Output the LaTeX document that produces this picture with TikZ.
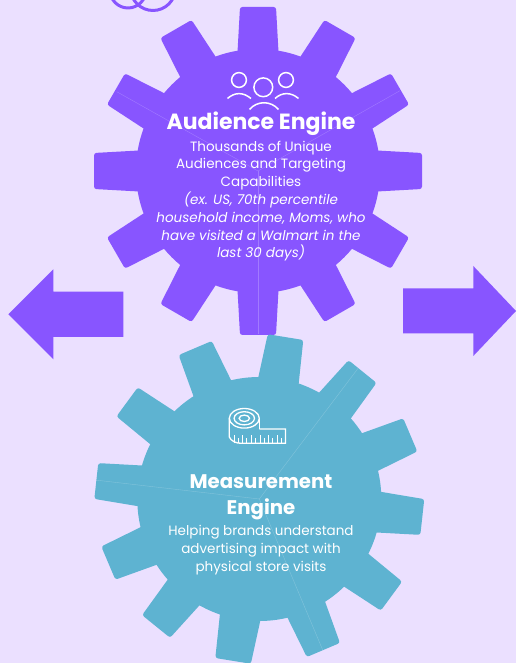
\documentclass[tikz,border=0pt]{standalone}
\usepackage{fontspec}
\setmainfont{Poppins}
\definecolor{bgc}{HTML}{EBE0FF}
\definecolor{purp}{HTML}{8855FF}
\definecolor{teal2}{HTML}{5EB3D1}
\newcommand{\gearshape}[4]{% cx, cy, angles, colour
  \fill[#4] (#1,#2) circle[radius=122];
  \foreach \a in {#3}{
    \fill[#4,rounded corners=2.5pt,shift={(#1,#2)},rotate=\a]
      (110,-21) -- (164,-18) -- (164,18) -- (110,21) -- cycle;
  }
}
\tikzset{
  titletext/.style={text=white,align=center,font=\fontsize{22}{26}\selectfont\bfseries,inner sep=0},
  titlesmall/.style={text=white,align=center,font=\fontsize{19.7}{26}\selectfont\bfseries,inner sep=0},
  bodytext/.style={text=white,align=center,font=\fontsize{13.5}{17.8}\selectfont,inner sep=0},
  seam/.style={line width=0.4pt,opacity=0.22,white},
  icon/.style={draw=white,line width=1.5pt,fill=none},
  arrowshape/.style={fill=purp,draw=none}
}
\begin{document}
\begin{tikzpicture}[x=1pt,y=1pt]
\useasboundingbox (0,0) rectangle (516,663);
\fill[bgc] (0,0) rectangle (516,663);
% top cut-off loops
\begin{scope}
\clip (0,0) rectangle (516,663);
\draw[purp,line width=3pt] (153,675) circle[radius=22.5];
\draw[purp,line width=3pt] (128,673) circle[radius=18];
\end{scope}
% arrows
\fill[arrowshape] (8.3,348.7) -- (53.3,393.7) -- (53.3,371.3) -- (123.3,371.3) -- (123.3,326) -- (53.3,326) -- (53.3,303.7) -- cycle;
\fill[arrowshape] (516,352) -- (473.3,397) -- (473.3,374.7) -- (403,374.7) -- (403,329.7) -- (473.3,329.7) -- (473.3,307) -- cycle;
% gears
\gearshape{258}{492}{0,30,60,90,120,150,180,210,240,270,300,330}{purp}
\gearshape{259.3}{164}{80.8,51,23,-6.3,-36.3,-67,-99.2,-129,-157,173.7,143.7,113}{teal2}
% seams
\coordinate (ga) at (258,492);
\coordinate (gb) at (259.3,164);
\draw[seam] (ga) -- (116.7,571.3);
\draw[seam] (ga) -- (400,572.3);
\draw[seam] (ga) -- (258,329);
\draw[seam] (gb) -- (358.3,295);
\draw[seam] (gb) -- (95,183);
\draw[seam] (gb) -- (322.7,13);
% people icon
\draw[icon] (239,583) circle[radius=7.4];
\draw[icon] (286,583) circle[radius=7.4];
\draw[icon] (263.3,575.7) circle[radius=9.4];
\draw[icon] (227.5,564.5) .. controls (235,571) and (243,571) .. (251,564.5);
\draw[icon] (275,564.5) .. controls (282,571) and (291,571) .. (298.5,564.5);
\draw[icon] (249.5,553.5) .. controls (257,562.5) and (271,562.5) .. (278.5,553.5);
% tape measure icon
\begin{scope}[draw=white,line width=1.3pt]
\draw (244.3,244.7) ellipse[x radius=15,y radius=9.8];
\draw (244.3,244.7) ellipse[x radius=10.2,y radius=6.6];
\draw (244.3,244.7) ellipse[x radius=5.2,y radius=3.2];
\draw (229.3,244.7) -- (229.3,226) .. controls (231,222) and (236,219.7) .. (241,219.7) -- (285.5,219.7) -- (285.5,234) -- (259.3,234);
\draw (259.3,244.7) -- (259.3,234);
\foreach \tx/\tl in {234/8,238/5,242/8,246/5,251/8,255/5,260/8,264/5,268/8,272/5,277/8,281/5}{
  \draw[line width=0.9pt] (\tx,219.7) -- (\tx,219.7+\tl);
}
\end{scope}
% texts
\node[titletext] (t1) at (261,539.5) {Audience Engine};
\node[bodytext,anchor=center] (b1) at (261,462) {Thousands of Unique\\Audiences and Targeting\\Capabilities\\\itshape (ex. US, 70th percentile\\\itshape household income, Moms, who\\\itshape have visited a Walmart in the\\\itshape last 30 days)};
\node[titlesmall] (t2) at (261,166) {Measurement\\Engine};
\node[bodytext] (b2) at (261,113) {Helping brands understand\\advertising impact with\\physical store visits};
\end{tikzpicture}
\end{document}
